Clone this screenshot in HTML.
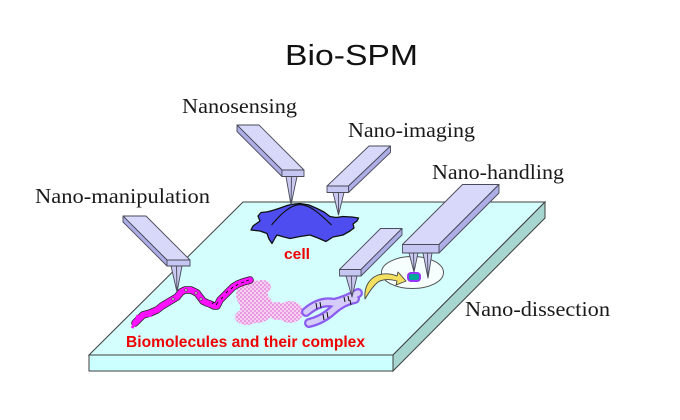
<!DOCTYPE html>
<html><head><meta charset="utf-8"><style>
html,body{margin:0;padding:0;background:#fff;}
svg{display:block;}
</style></head><body>
<svg width="680" height="420" viewBox="0 0 680 420" xmlns="http://www.w3.org/2000/svg">
<defs>
<pattern id="pk" x="0" y="0" width="4" height="4" patternUnits="userSpaceOnUse">
<rect width="4" height="4" fill="#f6d0f2"/>
<rect width="2" height="2" fill="#e898e0"/>
<rect x="2" y="2" width="2" height="2" fill="#ea9ce2"/>
</pattern>
</defs>
<rect width="680" height="420" fill="#fff"/>

<!-- Title -->
<text x="285" y="65" font-family="Liberation Sans, sans-serif" font-size="29" textLength="133" lengthAdjust="spacingAndGlyphs" fill="#111">Bio-SPM</text>

<!-- Slab -->
<polygon points="89,355 243,202 545,202 393,355" fill="#d4fdfd" stroke="#404040" stroke-width="1"/>
<rect x="89" y="355" width="304" height="16" fill="#ccffff" stroke="#404040" stroke-width="1"/>
<polygon points="393,355 545,202 545,218 393,371" fill="#a6d6cf" stroke="#404040" stroke-width="1"/>

<!-- Labels -->
<g font-family="Liberation Serif, serif" font-size="21" fill="#1a1a1a">
<text x="182" y="113" textLength="115" lengthAdjust="spacingAndGlyphs">Nanosensing</text>
<text x="348" y="137" textLength="127" lengthAdjust="spacingAndGlyphs">Nano-imaging</text>
<text x="432" y="179" textLength="132" lengthAdjust="spacingAndGlyphs">Nano-handling</text>
<text x="35" y="203" textLength="175" lengthAdjust="spacingAndGlyphs">Nano-manipulation</text>
<text x="465" y="316" textLength="145" lengthAdjust="spacingAndGlyphs">Nano-dissection</text>
</g>

<!-- Cell -->
<path d="M300,203.5 C292,204 287,205 283,207 C277,209 272,211 266,212 L261,212.5 L258,216 L260,221 L253,226 L251,230 L260,231 L267,233.5 L269,239 L272,243.5 L275,238 L277,235 L284,237 L290,238.5 L300,236.5 L310,235 L318,238 L326,241.5 L333,237 L343,235 L350,231 L354,228 L353,224 L357,221 L358.5,218 L352,217 L343,216.5 L336,217.5 L330,216.5 L324,212 L317,208.5 L309,205 Z" fill="#4e4ef0" stroke="#111" stroke-width="1.3" stroke-linejoin="round"/>
<path d="M271.5,225 C281,214 290,205 300,204.5 C311,205 321,215 331.5,225" fill="none" stroke="#111" stroke-width="1.2"/>
<text x="284" y="259" font-family="Liberation Sans, sans-serif" font-weight="bold" font-size="15" fill="#ee0000" textLength="26" lengthAdjust="spacingAndGlyphs">cell</text>

<!-- Pink protein -->
<g fill="url(#pk)">
<ellipse cx="252" cy="295" rx="16" ry="15"/>
<ellipse cx="257" cy="308" rx="17" ry="15"/>
<ellipse cx="247" cy="317" rx="12" ry="8"/>
<ellipse cx="262" cy="287" rx="9" ry="7"/>
<ellipse cx="277" cy="311" rx="9" ry="9"/>
<ellipse cx="290" cy="312" rx="13" ry="11"/>
</g>

<!-- Magenta DNA strand -->
<polyline points="135,323 140,318 143,315 150,313 157,310 162,306 167,303 172,300 177,297 181,292 185,290 191,290 197,293 200,297 203,301 207,303 210,304 214,306 217,306 220,300 223,297 228,292 233,287 238,284 243,282 250,280" fill="none" stroke="#222" stroke-width="7.5" stroke-linejoin="round" stroke-linecap="round"/>
<polyline points="135,323 140,318 143,315 150,313 157,310 162,306 167,303 172,300 177,297 181,292 185,290 191,290 197,293 200,297 203,301 207,303 210,304 214,306 217,306 220,300 223,297 228,292 233,287 238,284 243,282 250,280" fill="none" stroke="#ff10ff" stroke-width="6" stroke-linejoin="round" stroke-linecap="round"/>
<path d="M135,323 l-3,5 M140,318 l-4,-2 M150,313 l0,4" stroke="#ff10ff" stroke-width="3" fill="none"/>
<g fill="#fff" stroke="#333" stroke-width="0.6">
<circle cx="173" cy="299" r="1.2"/><circle cx="186" cy="290" r="1.2"/><circle cx="196" cy="293" r="1.2"/><circle cx="201" cy="299" r="1.2"/>
</g>
<g stroke="#111" stroke-width="0.9" fill="none">
<path d="M212,304 l2,-2 M216,305 l2,-3 M221,299 l2,-2 M226,293 l2,-2 M231,289 l2,-2 M236,286 l2,-2 M241,283 l3,-1 M246,281 l3,-1"/>
</g>

<!-- Chromosome -->
<g fill="none" stroke-linecap="round" stroke-linejoin="round">
<path d="M306,312 Q320,300 334,303 Q347,300 358,293" stroke="#8a5cf0" stroke-width="10"/>
<path d="M309,323 Q322,320 332,311 Q343,301 355,299" stroke="#8a5cf0" stroke-width="10"/>
<path d="M306,312 Q320,300 334,303 Q347,300 358,293" stroke="#d6ccfa" stroke-width="5.5"/>
<path d="M309,323 Q322,320 332,311 Q343,301 355,299" stroke="#d6ccfa" stroke-width="5.5"/>
</g>
<g stroke="#111" stroke-width="1" fill="none">
<path d="M316,303 l1,6 M320,302 l1,6 M323,314 l1,6 M327,312 l1,6 M344,297 l1,5 M348,296 l1,5 M350,300 l1,5"/>
</g>

<!-- Dissection ellipse -->
<ellipse cx="412.5" cy="272.5" rx="31" ry="16" fill="#f6fefe" stroke="#555" stroke-width="1"/>
<rect x="408" y="273" width="12" height="8" rx="3" fill="#00a89a" stroke="#9933ff" stroke-width="2"/>
<path d="M365,299 C364,288 368,279 378,275 C385,273 392,274 397,276 L398,272 L406,281 L396,285 L397,281 C390,279 383,279 378,282 C373,286 369,292 365,299 Z" fill="#f4e060" stroke="#444" stroke-width="0.9" stroke-linejoin="round"/>

<!-- Cantilevers -->
<g stroke="#4a4a5a" stroke-width="0.9" stroke-linejoin="round">
<polygon points="167,260 190,260 146,216 123,216" fill="#d8d8fa"/>
<polygon points="167,260 167,266 123,222 123,216" fill="#aeaee6"/>
<rect x="167" y="260" width="23" height="6" fill="#c6c6f2"/>
<polygon points="171,266 182,266 177,292" fill="#c8c8f0"/>
<line x1="176.5" y1="266" x2="177" y2="292"/>

<polygon points="282,170 304,170 259,125 237,125" fill="#d8d8fa"/>
<polygon points="282,170 282,176.5 237,131.5 237,125" fill="#aeaee6"/>
<rect x="282" y="170" width="22" height="6.5" fill="#c6c6f2"/>
<polygon points="286,176.5 297,176.5 291,205" fill="#c8c8f0"/>
<line x1="291.5" y1="176.5" x2="291" y2="205"/>

<polygon points="327,186 348.5,186 390.5,146 369,146" fill="#d8d8fa"/>
<polygon points="348.5,186 348.5,192.5 390.5,152.5 390.5,146" fill="#aeaee6"/>
<rect x="327" y="186" width="21.5" height="6.5" fill="#c6c6f2"/>
<polygon points="333,192.5 344,192.5 338.5,215" fill="#c8c8f0"/>
<line x1="338.5" y1="192.5" x2="338.5" y2="215"/>

<polygon points="339.5,269.5 361,269.5 402,228.5 380.5,228.5" fill="#d8d8fa"/>
<polygon points="361,269.5 361,276 402,235 402,228.5" fill="#aeaee6"/>
<rect x="339.5" y="269.5" width="21.5" height="6.5" fill="#c6c6f2"/>
<polygon points="346,276 357,276 352,297" fill="#c8c8f0"/>
<line x1="351.5" y1="276" x2="352" y2="297"/>

<polygon points="402.5,244.5 439,244.5 499,184.5 462.5,184.5" fill="#d8d8fa"/>
<polygon points="439,244.5 439,253 499,193 499,184.5" fill="#aeaee6"/>
<rect x="402.5" y="244.5" width="36.5" height="8.5" fill="#c6c6f2"/>
<polygon points="409,253 418,253 414,272" fill="#c8c8f0"/>
<line x1="413.5" y1="253" x2="414" y2="272"/>
<polygon points="423,253 432,253 428,278" fill="#c8c8f0"/>
<line x1="427.5" y1="253" x2="428" y2="278"/>
</g>

<text x="126" y="347" font-family="Liberation Sans, sans-serif" font-weight="bold" font-size="15.5" fill="#ee0000" textLength="239" lengthAdjust="spacingAndGlyphs">Biomolecules and their complex</text>
</svg>
</body></html>
